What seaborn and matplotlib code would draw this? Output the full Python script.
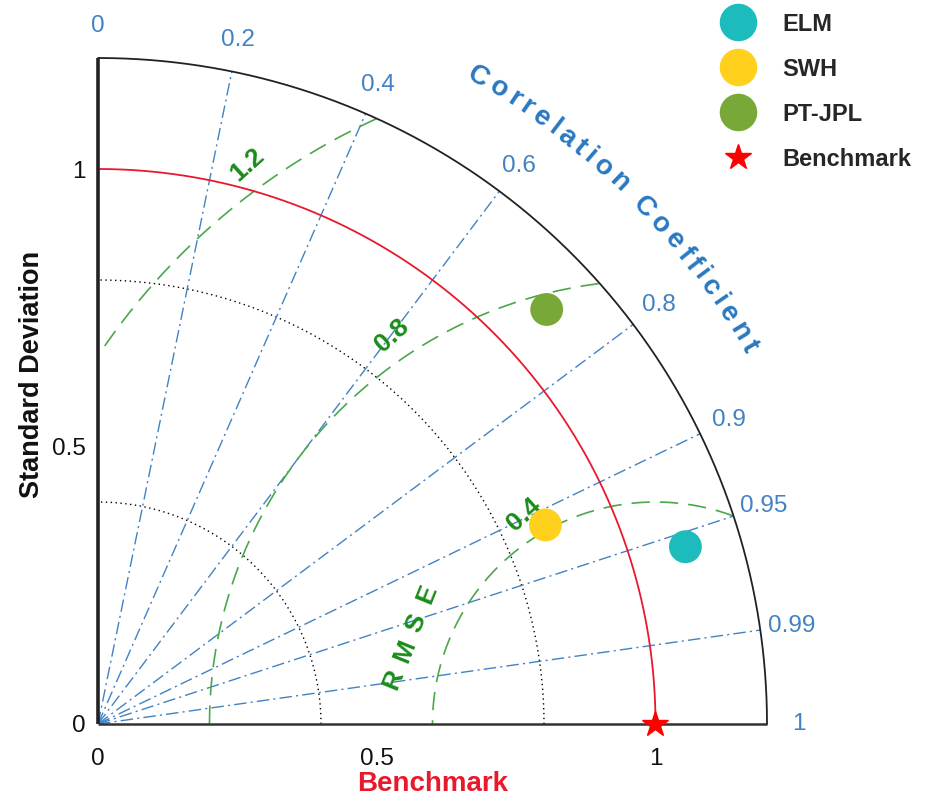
import numpy as np
import pandas as pd
import matplotlib
matplotlib.use("Agg")
import matplotlib.pyplot as plt
import seaborn as sns
from matplotlib.lines import Line2D
from matplotlib.font_manager import FontProperties
from matplotlib.textpath import text_to_path

# ---- data -------------------------------------------------------------
models = ["ELM", "SWH", "PT-JPL"]
std_dev = [1.101, 0.879, 1.098]
corr = [0.957, 0.913, 0.733]
ref_name = "Benchmark"
ref_std = 1.0

corr_ticks = [0, 0.2, 0.4, 0.6, 0.8, 0.9, 0.95, 0.99, 1]
corr_tick_labels = ["0", "0.2", "0.4", "0.6", "0.8", "0.9", "0.95", "0.99", "1"]
corr_lines = [0.2, 0.4, 0.6, 0.8, 0.9, 0.95, 0.99]
rmse_levels = [0.4, 0.8, 1.2]
std_arcs = [0.4, 0.8]
std_ticks = [0, 0.5, 1]
std_tick_labels = ["0", "0.5", "1"]
max_std = 1.2

# ---- style ------------------------------------------------------------
palette = {"ELM": "#1cbcbc", "SWH": "#ffd11c", "PT-JPL": "#78a838"}
blue = "#4282c2"
green_line = "#4aa84a"
green_text = "#1a8c1a"
red = "#e8192c"

sns.set_theme(style="white")
plt.rcParams["font.family"] = ["Liberation Sans", "DejaVu Sans"]

fig = plt.figure(figsize=(9.26, 7.96), dpi=100)
ax = fig.add_axes([98 / 926, 72 / 796, 669 / 926, 666 / 796])
ax.set_xlim(0, max_std)
ax.set_ylim(0, max_std)
for sp in ax.spines.values():
    sp.set_visible(False)
ax.grid(False)

theta = np.linspace(0, np.pi / 2, 500)

# dotted standard-deviation arcs
for r in std_arcs:
    ax.plot(r * np.cos(theta), r * np.sin(theta), color="black",
            ls=(0, (1, 2.5)), lw=1.0, zorder=1)

# reference standard deviation arc
ax.plot(ref_std * np.cos(theta), ref_std * np.sin(theta), color=red, lw=1.3, zorder=2)

# correlation rays
for c in corr_lines:
    a = np.arccos(c)
    ax.plot([0, max_std * np.cos(a)], [0, max_std * np.sin(a)], color=blue,
            lw=1.0, ls=(0, (9, 3, 1.5, 3)), zorder=1)

# centred RMSE circles around the reference point
phi = np.linspace(0, np.pi, 800)
label_angles = [122, 124, 126]
for R, ang in zip(rmse_levels, label_angles):
    x = ref_std + R * np.cos(phi)
    y = R * np.sin(phi)
    keep = (x >= 0) & (x ** 2 + y ** 2 <= max_std ** 2)
    ax.plot(np.where(keep, x, np.nan), np.where(keep, y, np.nan), color=green_line,
            lw=1.2, ls=(0, (11, 6)), zorder=1)
    t = np.deg2rad(ang)
    rr = R + 0.045
    ax.text(ref_std + rr * np.cos(t), rr * np.sin(t), f"{R:g}", rotation=42,
            rotation_mode="anchor", ha="center", va="center", color=green_text,
            fontsize=19, fontweight="bold", zorder=4)

# "RMSE" caption placed letter by letter along a slanted line
rm_center = np.array([0.560, 0.157])
rm_dir = np.deg2rad(68)
rm_step = 0.055
for i, ch in enumerate("RMSE"):
    off = (i - 1.5) * rm_step
    ax.text(rm_center[0] + off * np.cos(rm_dir), rm_center[1] + off * np.sin(rm_dir), ch,
            rotation=68, rotation_mode="anchor", ha="center", va="center",
            color=green_text, fontsize=19, fontweight="bold", zorder=4)

# frame: axes and outer arc
ax.plot([0, 0], [0, max_std], color="#222222", lw=2.6, clip_on=False, zorder=6,
        solid_capstyle="butt")
ax.plot([0, max_std], [0, 0], color="#333333", lw=1.8, clip_on=False, zorder=6,
        solid_capstyle="butt")
ax.plot(max_std * np.cos(theta), max_std * np.sin(theta), color="#222222", lw=1.3,
        clip_on=False, zorder=6)

# correlation tick labels around the outer arc
for c, lab in zip(corr_ticks, corr_tick_labels):
    a = np.arccos(c)
    ax.text(1.257 * np.cos(a), 1.257 * np.sin(a), lab, ha="center", va="center",
            color=blue, fontsize=17.5, clip_on=False)

# curved "Correlation Coefficient" title
title = "Correlation Coefficient"
title_size = 20
fp = FontProperties(family="Liberation Sans", weight="bold", size=title_size)
widths = []
for ch in title:
    if ch == " ":
        widths.append(0.278 * title_size)
    else:
        w, h, d = text_to_path.get_text_width_height_descent(ch, fp, ismath=False)
        widths.append(w)
widths = np.array(widths) + 0.1 * title_size
centers = np.cumsum(widths) - widths / 2
frac = (centers - centers[0]) / (centers[-1] - centers[0])
a_start, a_end = 59.7, 30.2
r_title = 1.351
for ch, f in zip(title, frac):
    ang = a_start - f * (a_start - a_end)
    t = np.deg2rad(ang)
    ax.text(r_title * np.cos(t), r_title * np.sin(t), ch, rotation=ang - 90,
            rotation_mode="anchor", ha="center", va="center", color="#2a78c0",
            fontproperties=fp, clip_on=False)

# model points
df = pd.DataFrame({"model": models, "std": std_dev, "corr": corr})
df["x"] = df["std"] * df["corr"]
df["y"] = df["std"] * np.sqrt(1 - df["corr"] ** 2)
sns.scatterplot(data=df, x="x", y="y", hue="model", palette=palette, s=560,
                edgecolor="none", legend=False, ax=ax, zorder=7, clip_on=False)
ax.plot([ref_std], [0], marker="*", color="red", markersize=19, ls="none",
        clip_on=False, zorder=8)

# axis ticks and labels
ax.set_xticks(std_ticks)
ax.set_xticklabels(std_tick_labels)
ax.set_yticks(std_ticks)
ax.set_yticklabels(std_tick_labels)
ax.tick_params(axis="both", length=0, labelsize=17.5, colors="#111111")
ax.tick_params(axis="x", pad=17)
ax.tick_params(axis="y", pad=9)
ax.set_xlabel(ref_name, color=red, fontsize=20, fontweight="bold", labelpad=1)
ax.set_ylabel("Standard Deviation", color="#111111", fontsize=19.5, fontweight="bold")
ax.yaxis.set_label_coords(-0.079, 0.525)

# legend
handles = [Line2D([], [], marker="o", ls="none", color=palette[m], markersize=26)
           for m in models]
handles.append(Line2D([], [], marker="*", ls="none", color="red", markersize=19))
leg = fig.legend(handles, models + [ref_name], loc="upper left",
                 bbox_to_anchor=(710 / 926, 1 - 8 / 796), frameon=False,
                 prop=FontProperties(family="Liberation Sans", weight="bold", size=17),
                 labelspacing=0.93, handletextpad=0.85, borderaxespad=0.0,
                 borderpad=0.2)

fig.savefig("out.png", dpi=100, facecolor="white")
